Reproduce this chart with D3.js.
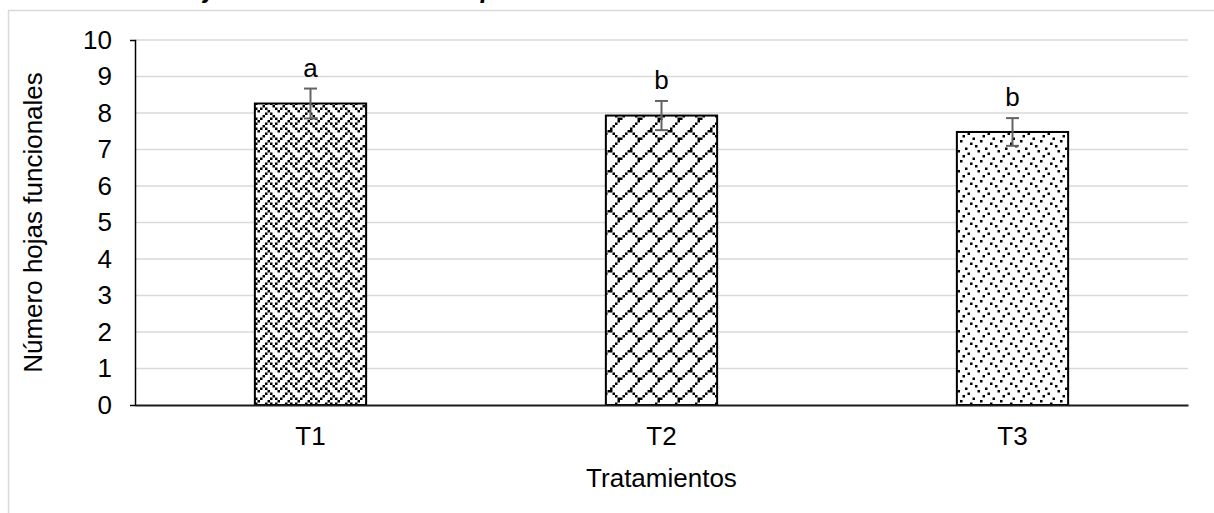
<!DOCTYPE html>
<html>
<head>
<meta charset="utf-8">
<script src="https://cdn.jsdelivr.net/npm/d3@7"></script>
<style>
  body { margin: 0; background: #fff; }
  text { font-family: "Liberation Sans", Arial, sans-serif; }
</style>
</head>
<body>
<script>
var categories = ["T1", "T2", "T3"],
    means      = [8.26, 7.93, 7.48],
    errors     = [0.41, 0.40, 0.38],
    letters    = ["a", "b", "b"],
    yTicks     = [0, 1, 2, 3, 4, 5, 6, 7, 8, 9, 10];

var width = 1214, height = 513,
    plotL = 135, plotR = 1188, plotT = 40, plotB = 405,
    fs = 26;

// 8x8 hatch bitmaps (Excel style), drawn at 2.5x
var weaveBits    = [0x11, 0x2a, 0x44, 0xa2, 0x11, 0x28, 0x44, 0x8a],
    brickBits    = [0x01, 0x02, 0x04, 0x08, 0x18, 0x24, 0x42, 0x81],
    confettiBits = [0x80, 0x08, 0x02, 0x20, 0x01, 0x10, 0x40, 0x04];

var svg = d3.select("body").append("svg")
    .attr("width", width).attr("height", height);

var defs = svg.append("defs");

function bitPattern(id, bits, s) {
  var p = defs.append("pattern").attr("id", id)
      .attr("patternUnits", "userSpaceOnUse")
      .attr("width", 8 * s).attr("height", 8 * s);
  p.append("rect").attr("width", 8 * s).attr("height", 8 * s).attr("fill", "#fff");
  bits.forEach(function(b, r) {
    for (var c = 0; c < 8; c++) {
      if (b & (0x80 >> c)) {
        p.append("rect").attr("x", c * s).attr("y", r * s)
          .attr("width", s).attr("height", s).attr("fill", "#000");
      }
    }
  });
}
bitPattern("pat0", weaveBits, 2.5);
bitPattern("pat1", brickBits, 2.5);
bitPattern("pat2", confettiBits, 2.5);

// caption, cut off at the top of the page
svg.append("text")
    .attr("x", 30).attr("y", -2.5)
    .attr("font-size", 26).attr("font-weight", "bold").attr("font-style", "italic")
    .text("Número de hojas funcionales en las plantas de cacao");

// chart frame
svg.append("rect")
    .attr("x", 8.5).attr("y", 10.5).attr("width", 1230).attr("height", 530)
    .attr("fill", "none").attr("stroke", "#d9d9d9").attr("stroke-width", 1.5);

var x = d3.scaleBand().domain(categories).range([plotL, plotR])
        .paddingInner(0.683).paddingOuter(0.3415),
    y = d3.scaleLinear().domain([0, 10]).range([plotB, plotT]);

// gridlines
svg.append("g").selectAll("line").data(yTicks.slice(1)).enter().append("line")
    .attr("x1", plotL).attr("x2", plotR)
    .attr("y1", function(d) { return y(d); }).attr("y2", function(d) { return y(d); })
    .attr("stroke", "#d9d9d9").attr("stroke-width", 1.5);

// y axis
var yAxis = svg.append("g").attr("transform", "translate(" + plotL + ",0)")
    .call(d3.axisLeft(y).tickValues(yTicks).tickSizeInner(0).tickSizeOuter(5).tickPadding(23));
yAxis.select(".domain").attr("stroke", "#000").attr("stroke-width", 1.5);
yAxis.selectAll("text").attr("font-size", fs).attr("fill", "#000")
    .attr("font-family", "'Liberation Sans', Arial, sans-serif");

// bars
svg.append("g").selectAll("rect").data(means).enter().append("rect")
    .attr("x", function(d, i) { return x(categories[i]); })
    .attr("y", function(d) { return y(d); })
    .attr("width", x.bandwidth())
    .attr("height", function(d) { return y(0) - y(d); })
    .attr("fill", function(d, i) { return "url(#pat" + i + ")"; })
    .attr("stroke", "#000").attr("stroke-width", 2);

// x axis
var xAxis = svg.append("g").attr("transform", "translate(0," + plotB + ")")
    .call(d3.axisBottom(x).tickSize(0).tickPadding(22));
xAxis.select(".domain").attr("stroke", "#1a1a1a").attr("stroke-width", 2);
xAxis.selectAll("text").attr("font-size", fs).attr("fill", "#000")
    .attr("font-family", "'Liberation Sans', Arial, sans-serif");

// error bars
var eb = svg.append("g").attr("stroke", "#636363").attr("stroke-width", 2);
means.forEach(function(d, i) {
  var cx = x(categories[i]) + x.bandwidth() / 2;
  eb.append("line").attr("x1", cx).attr("x2", cx)
    .attr("y1", y(d - errors[i])).attr("y2", y(d + errors[i]));
  [d - errors[i], d + errors[i]].forEach(function(v) {
    eb.append("line").attr("x1", cx - 6.5).attr("x2", cx + 6.5)
      .attr("y1", y(v)).attr("y2", y(v));
  });
});

// significance letters
svg.append("g").selectAll("text").data(letters).enter().append("text")
    .attr("x", function(d, i) { return x(categories[i]) + x.bandwidth() / 2; })
    .attr("y", function(d, i) { return y(means[i] + errors[i]) - 12; })
    .attr("text-anchor", "middle").attr("font-size", fs)
    .text(function(d) { return d; });

// axis titles
svg.append("text")
    .attr("x", (plotL + plotR) / 2).attr("y", 487)
    .attr("text-anchor", "middle").attr("font-size", fs)
    .text("Tratamientos");

svg.append("text")
    .attr("transform", "translate(42," + (plotT + plotB) / 2 + ") rotate(-90)")
    .attr("text-anchor", "middle").attr("font-size", fs)
    .text("Número hojas funcionales");
</script>
</body>
</html>
